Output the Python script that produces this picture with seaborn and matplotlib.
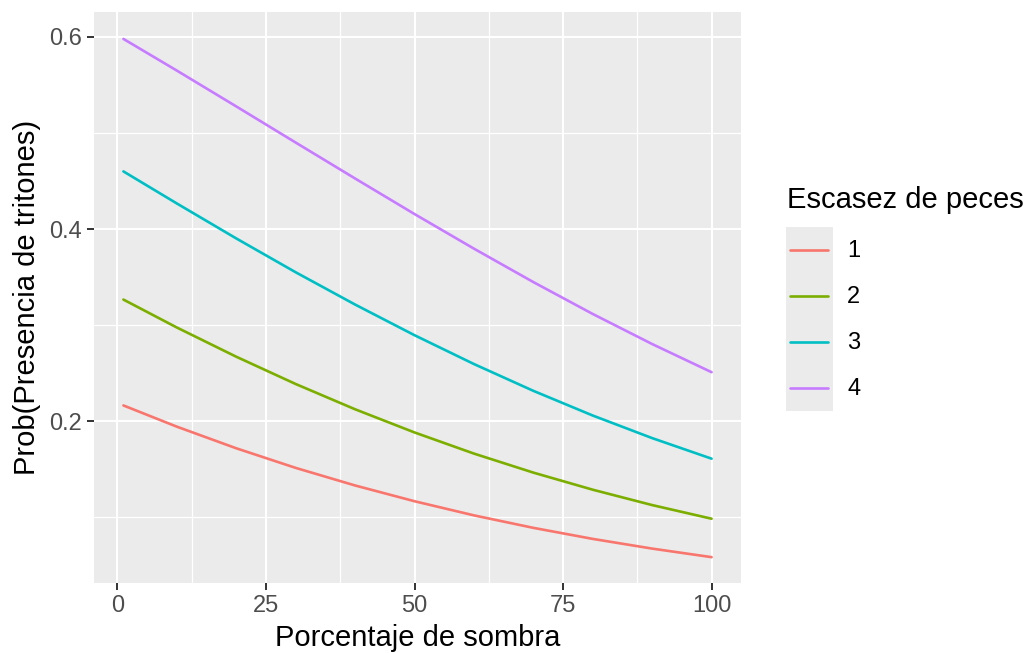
import numpy as np
import pandas as pd
import matplotlib
matplotlib.use("Agg")
import matplotlib.pyplot as plt
import seaborn as sns

# Data
sombra = [1, 10, 20, 30, 40, 50, 60, 70, 80, 90, 100]
prob_1 = [0.2165, 0.1944, 0.1719, 0.1515, 0.1332, 0.1168, 0.1021, 0.0891, 0.0776, 0.0675, 0.0586]
prob_2 = [0.3267, 0.2976, 0.2672, 0.2388, 0.2125, 0.1884, 0.1664, 0.1466, 0.1288, 0.1128, 0.0986]
prob_3 = [0.4601, 0.4267, 0.3903, 0.3551, 0.3215, 0.2896, 0.2596, 0.2317, 0.2060, 0.1825, 0.1611]
prob_4 = [0.5980, 0.5650, 0.5277, 0.4901, 0.4527, 0.4157, 0.3797, 0.3449, 0.3117, 0.2804, 0.2511]
niveles = ["1", "2", "3", "4"]
colores = ["#F8766D", "#7CAE00", "#00BFC4", "#C77CFF"]

x_ticks = [0, 25, 50, 75, 100]
y_ticks = [0.2, 0.4, 0.6]

df = pd.concat([
    pd.DataFrame({"sombra": sombra, "prob": p, "peces": n})
    for p, n in zip([prob_1, prob_2, prob_3, prob_4], niveles)
])

sns.set_theme(style="white")
plt.rcParams['font.family'] = ['Liberation Sans', 'DejaVu Sans']

fig = plt.figure(figsize=(10.26, 6.53), dpi=100)
ax = fig.add_axes([94/1026, 1-583/653, (741-94)/1026, (583-12)/653])
ax.set_facecolor("#EBEBEB")

sns.lineplot(data=df, x="sombra", y="prob", hue="peces", hue_order=niveles,
             palette=colores, linewidth=1.9, legend=False, ax=ax, zorder=3)

ax.set_xlim(-3.95, 104.95)
ax.set_ylim(0.0317, 0.626)
ax.set_xticks(x_ticks)
ax.set_xticklabels([str(t) for t in x_ticks])
ax.set_yticks(y_ticks)
ax.set_yticklabels([f"{t:.1f}" for t in y_ticks])
ax.set_xticks([12.5, 37.5, 62.5, 87.5], minor=True)
ax.set_yticks([0.1, 0.3, 0.5], minor=True)
ax.grid(which="major", color="white", linewidth=1.5, zorder=0)
ax.grid(which="minor", color="white", linewidth=0.9, zorder=0)
ax.set_axisbelow(True)
for s in ax.spines.values():
    s.set_visible(False)
ax.tick_params(axis="both", which="major", length=5, width=1.4, color="#333333",
               labelsize=17, labelcolor="#4D4D4D", pad=3.5, bottom=True, left=True)
ax.tick_params(axis="both", which="minor", length=0)
ax.set_xlabel("Porcentaje de sombra", fontsize=21, color="black", labelpad=5.5)
ax.set_ylabel("Prob(Presencia de tritones)", fontsize=21, color="black", labelpad=6)

# Legend (ggplot style)
fig.text(787/1026, 1-200/653, "Escasez de peces", fontsize=21, ha="left", va="center", color="black")
lax = fig.add_axes([786/1026, 1-411/653, 47/1026, 184/653])
lax.set_facecolor("#EBEBEB")
lax.set_xlim(0, 1)
lax.set_ylim(0, 4)
for s in lax.spines.values():
    s.set_visible(False)
lax.set_xticks([])
lax.set_yticks([])
for i, (n, c) in enumerate(zip(niveles, colores)):
    yc = 3.5 - i
    lax.plot([0.09, 0.89], [yc, yc], color=c, linewidth=1.9)
    fig.text(847/1026, 1-(251 + 46*i)/653, n, fontsize=17, ha="left", va="center", color="black")

fig.savefig("out.png", dpi=100)
